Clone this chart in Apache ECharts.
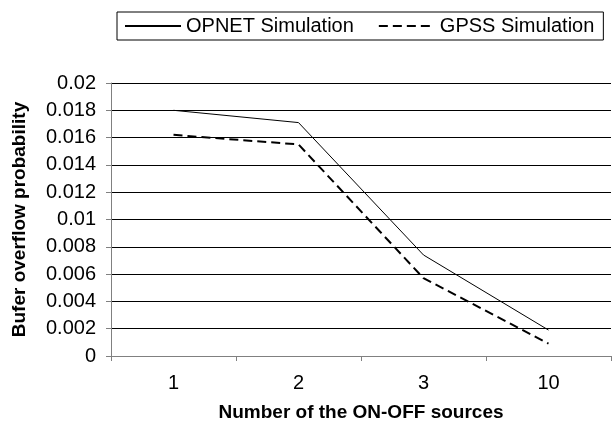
<!DOCTYPE html>
<html>
<head>
<meta charset="utf-8">
<script src="https://cdn.jsdelivr.net/npm/echarts@6/dist/echarts.min.js"></script>
<style>
html,body{margin:0;padding:0;background:#fff;}
#chart{width:616px;height:430px;}
</style>
</head>
<body>
<div id="chart"></div>
<script>
const categories = ['1', '2', '3', '10'];
const opnetValues = [0.018, 0.0171, 0.0074, 0.0019];
const gpssValues = [0.0162, 0.0155, 0.0057, 0.0009];
const seriesNames = ['OPNET Simulation', 'GPSS Simulation'];
const xTitle = 'Number of the ON-OFF sources';
const yTitle = 'Bufer overflow probability';

const FONT = '"Liberation Sans", Arial, sans-serif';
const chart = echarts.init(document.getElementById('chart'), null, {renderer: 'canvas'});
chart.setOption({
  backgroundColor: '#fff',
  animation: false,
  textStyle: {fontFamily: FONT},
  legend: {
    left: 117,
    top: 12,
    padding: [4, 9, 4, 7],
    borderColor: '#000',
    borderWidth: 1,
    itemGap: 24,
    itemWidth: 56,
    itemHeight: 14,
    itemStyle: {opacity: 0},
    textStyle: {fontFamily: FONT, fontSize: 20, color: '#000'},
    data: seriesNames
  },
  grid: {left: 111, top: 83, width: 500, height: 273, containLabel: false},
  xAxis: {
    type: 'category',
    data: categories,
    boundaryGap: true,
    name: xTitle,
    nameLocation: 'middle',
    nameGap: 47,
    nameTextStyle: {fontFamily: FONT, fontSize: 19, fontWeight: 'bold', color: '#000'},
    axisLine: {show: true, lineStyle: {color: '#808080', width: 1}},
    axisTick: {show: true, alignWithLabel: false, length: 5, lineStyle: {color: '#808080'}},
    axisLabel: {fontFamily: FONT, fontSize: 20, color: '#000', margin: 17},
    splitLine: {show: false}
  },
  yAxis: {
    type: 'value',
    min: 0,
    max: 0.02,
    interval: 0.002,
    name: yTitle,
    nameLocation: 'middle',
    nameGap: 82,
    nameTextStyle: {fontFamily: FONT, fontSize: 19, fontWeight: 'bold', color: '#000'},
    axisLine: {show: true, lineStyle: {color: '#808080', width: 1}},
    axisTick: {show: true, length: 5, lineStyle: {color: '#808080'}},
    axisLabel: {fontFamily: FONT, fontSize: 20, color: '#000', margin: 15},
    splitLine: {show: true, lineStyle: {color: '#000', width: 1}}
  },
  series: [
    {
      name: seriesNames[0],
      type: 'line',
      data: opnetValues,
      symbol: 'none',
      lineStyle: {color: '#000', width: 1, type: 'solid'},
      itemStyle: {color: '#000'}
    },
    {
      name: seriesNames[1],
      type: 'line',
      data: gpssValues,
      symbol: 'none',
      lineStyle: {color: '#000', width: 2, type: [9, 5]},
      itemStyle: {color: '#000'}
    }
  ]
});
</script>
</body>
</html>
